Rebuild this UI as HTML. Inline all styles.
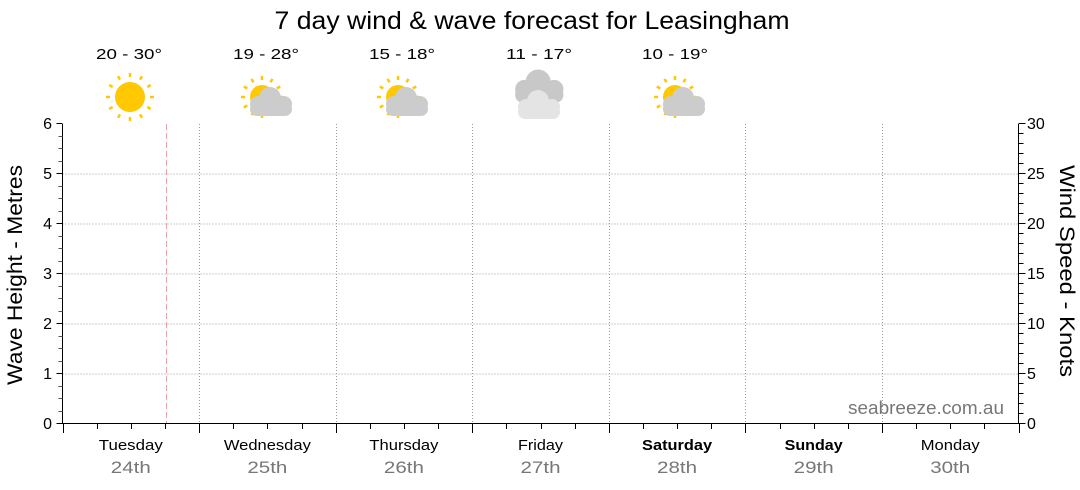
<!DOCTYPE html>
<html><head><meta charset="utf-8"><style>
html,body{margin:0;padding:0;background:#fff;}
svg{display:block;font-family:"Liberation Sans","DejaVu Sans",sans-serif;}
</style></head><body>
<svg id="s" width="1080" height="490" viewBox="0 0 1080 490" xmlns="http://www.w3.org/2000/svg">
<text x="532" y="29" font-size="25" text-anchor="middle" fill="#000" textLength="515" lengthAdjust="spacingAndGlyphs">7 day wind &amp; wave forecast for Leasingham</text>
<g font-size="15" text-anchor="middle" fill="#000">
<text x="129" y="59" textLength="66" lengthAdjust="spacingAndGlyphs">20 - 30°</text>
<text x="266" y="59" textLength="66" lengthAdjust="spacingAndGlyphs">19 - 28°</text>
<text x="402" y="59" textLength="66" lengthAdjust="spacingAndGlyphs">15 - 18°</text>
<text x="539" y="59" textLength="66" lengthAdjust="spacingAndGlyphs">11 - 17°</text>
<text x="675" y="59" textLength="66" lengthAdjust="spacingAndGlyphs">10 - 19°</text>
</g>
<g id="grid" stroke="#999" stroke-width="1" stroke-dasharray="1,2"></g>
<line x1="166.5" y1="124" x2="166.5" y2="423" stroke="#f0a0a8" stroke-dasharray="6,3"/>
<g id="ax" stroke="#000" stroke-width="1"></g>
<g id="icons"></g>
<g font-size="16" fill="#000" text-anchor="end" id="ll"></g>
<g font-size="16" fill="#000" id="rl"></g>
<text transform="translate(22,275) rotate(-90)" font-size="21" text-anchor="middle" textLength="220" lengthAdjust="spacingAndGlyphs">Wave Height - Metres</text>
<text transform="translate(1060,271) rotate(90)" font-size="21" text-anchor="middle" textLength="212" lengthAdjust="spacingAndGlyphs">Wind Speed - Knots</text>
<text x="1004" y="414" font-size="18" fill="#777" text-anchor="end" textLength="156" lengthAdjust="spacingAndGlyphs">seabreeze.com.au</text>
<g id="days" text-anchor="middle"></g>
</svg>
<script>
var NS="http://www.w3.org/2000/svg";
function el(p,t,a,txt){var e=document.createElementNS(NS,t);for(var k in a)e.setAttribute(k,a[k]);if(txt!=null)e.textContent=txt;document.getElementById(p).appendChild(e);return e;}
var L=62.5,R=1018.5,T=124,B=423,dw=(R-L)/7;
for(var i=1;i<6;i++){var y=T+i*50;el("grid","line",{x1:L,y1:y,x2:R,y2:y});}
for(var d=1;d<7;d++){var x=Math.round(L+d*dw)+0.5;el("grid","line",{x1:x,y1:T,x2:x,y2:B});}
el("ax","line",{x1:L,y1:T,x2:L,y2:B+0.5});
el("ax","line",{x1:R,y1:T,x2:R,y2:B+0.5});
el("ax","line",{x1:L,y1:B+0.5,x2:R,y2:B+0.5});
for(var i=0;i<=24;i++){var y=Math.round(B-i*12.5)+0.5;var len=(i%4==0)?6:4;el("ax","line",{x1:L-len,y1:y,x2:L,y2:y,stroke:i%4?"#555":"#000"});}
for(var i=0;i<=6;i++)el("ll","text",{x:52,y:B-i*50+6},String(i));
for(var i=0;i<=30;i++){var y=Math.round(B-i*10)+0.5;var len=(i%5==0)?7:5;el("ax","line",{x1:R,y1:y,x2:R+len,y2:y});}
for(var i=0;i<=30;i+=5)el("rl","text",{x:1027,y:B-i*10+6},String(i));
for(var q=0;q<=28;q++){var x=Math.round(L+q*dw/4)+0.5;var len=(q%4==0)?10:6;el("ax","line",{x1:x,y1:B,x2:x,y2:B+len});}
var dn=["Tuesday","Wednesday","Thursday","Friday","Saturday","Sunday","Monday"];
var dl=[64,87,69,45,70,58,59];
for(var d=0;d<7;d++){var cx=L+dw*d+dw/2;var t=el("days","text",{x:cx,y:450,"font-size":15,fill:"#000",textLength:dl[d],lengthAdjust:"spacingAndGlyphs"},dn[d]);if(d==4||d==5)t.setAttribute("font-weight","bold");el("days","text",{x:cx,y:473,"font-size":17,fill:"#777",textLength:40,lengthAdjust:"spacingAndGlyphs"},(24+d)+"th");}
function sun(cx,cy,r,rays){var g=el("icons","g",{});if(rays){for(var a=0;a<12;a++){var an=a*Math.PI/6;var r1=r+5,r2=r+9;var e=document.createElementNS(NS,"line");e.setAttribute("x1",cx+r1*Math.cos(an));e.setAttribute("y1",cy+r1*Math.sin(an));e.setAttribute("x2",cx+r2*Math.cos(an));e.setAttribute("y2",cy+r2*Math.sin(an));e.setAttribute("stroke","#ffc800");e.setAttribute("stroke-width","2.5");g.appendChild(e);}}
var c=document.createElementNS(NS,"circle");c.setAttribute("cx",cx);c.setAttribute("cy",cy);c.setAttribute("r",r);c.setAttribute("fill","#ffc800");g.appendChild(c);}
function cloud(x,y,s,col){var g=el("icons","g",{fill:col});var parts=[["circle",{cx:x+21*s,cy:y+8*s,r:11*s}],["circle",{cx:x+9*s,cy:y+14*s,r:8*s}],["circle",{cx:x+35*s,cy:y+14*s,r:8*s}],["rect",{x:x+1*s,y:y+12*s,width:42*s,height:14*s,rx:7*s}]];parts.forEach(function(p){var e=document.createElementNS(NS,p[0]);for(var k in p[1])e.setAttribute(k,p[1][k]);g.appendChild(e);});}
sun(130,97,15,true);
[262,398,675].forEach(function(cx){sun(cx,97,12,true);cloud(cx-13,90,1,"#cccccc");});
cloud(514,73,1.15,"#c8c8c8");cloud(517,93,1.0,"#e4e4e4");
</script>
</body></html>
